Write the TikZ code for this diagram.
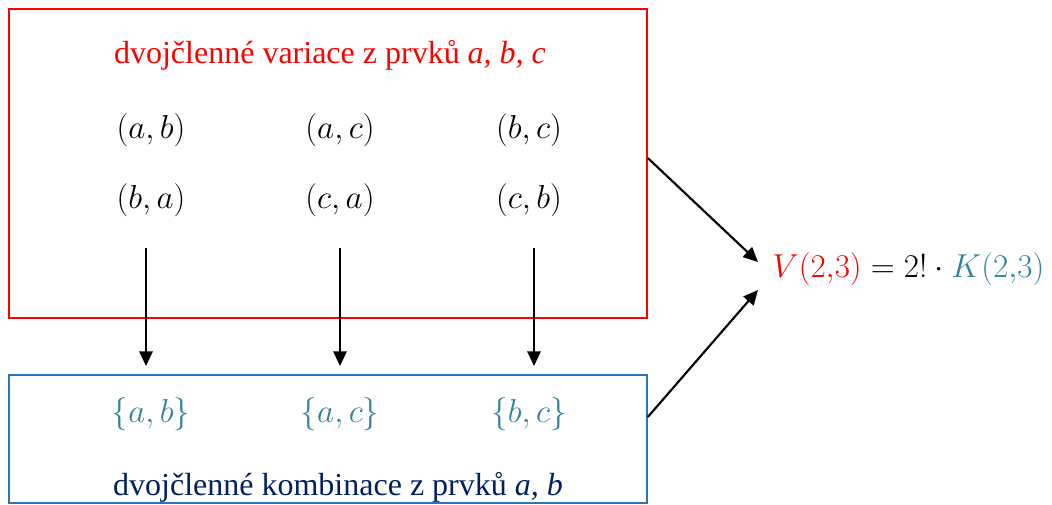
\documentclass[tikz,border=0pt]{standalone}
\usepackage{fontspec}
\setmainfont{Liberation Serif}
\usepackage{amsmath}
\usepackage{xcolor}
\usepackage{tikz}
\usetikzlibrary{arrows.meta, positioning}

\definecolor{varred}{RGB}{255,0,0}
\definecolor{kombox}{RGB}{46,117,182}
\definecolor{komteal}{RGB}{49,132,155}
\definecolor{komnavy}{RGB}{0,32,96}

\tikzset{
  pair/.style={font=\fontsize{24}{28}\selectfont, inner sep=1pt},
  set/.style={pair, text=komteal},
  arr/.style={-{Triangle[length=11pt,width=10pt]}, line width=1.6pt}
}

\begin{document}
\begin{tikzpicture}[x=0.75pt, y=-0.75pt]
  \useasboundingbox (0,0) rectangle (1052,504);
  % ---------- VARIACE ----------
  \node[draw=varred, line width=1.2pt, minimum width=478.5pt, minimum height=231.75pt] (V) at (328,163.5) {};
  \node[text=varred, font=\fontsize{24}{28}\selectfont] (Vt) at (330,55) {dvojčlenné variace z prvků \textit{a, b, c}};
  \node[pair] (ab) at (151,130) {$(a,b)$};
  \node[pair] (ac) at (340,130) {$(a,c)$};
  \node[pair] (bc) at (529,130) {$(b,c)$};
  \node[pair] (ba) at (151,200) {$(b,a)$};
  \node[pair] (ca) at (340,200) {$(c,a)$};
  \node[pair] (cb) at (529,200) {$(c,b)$};
  % ---------- KOMBINACE ----------
  \node[draw=kombox, line width=1.2pt, minimum width=478.5pt, minimum height=96pt] (K) at (328,439) {};
  \node[set] (sab) at (151,414) {$\{a,b\}$};
  \node[set] (sac) at (340,414) {$\{a,c\}$};
  \node[set] (sbc) at (529,414) {$\{b,c\}$};
  \node[text=komnavy, font=\fontsize{24}{28}\selectfont] (Kt) at (338,487) {dvojčlenné kombinace z prvků \textit{a, b}};
  % ---------- VZTAH ----------
  \node[pair, anchor=west] (F) at (771,269) {$\textcolor{varred}{V(2{,}3)} = 2!\cdot\textcolor{komteal}{K(2{,}3)}$};
  % ---------- SIPKY ----------
  \foreach \x/\n in {146/1, 340/2, 534/3} {
    \coordinate (s\n) at (\x,248);
    \coordinate (e\n) at (\x,366);
    \draw[arr] (s\n) -- (e\n);
  }
  \coordinate (Fa) at (758,262);
  \coordinate (Fb) at (758,290);
  \draw[arr] (V.east |- 0,158) -- (Fa);
  \draw[arr] (K.east |- 0,417) -- (Fb);
\end{tikzpicture}
\end{document}
